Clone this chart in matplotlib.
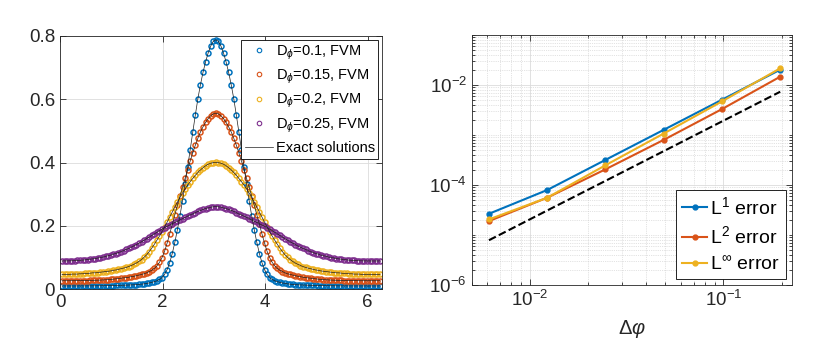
import numpy as np
import matplotlib
matplotlib.use('Agg')
import matplotlib.pyplot as plt
from matplotlib.ticker import FixedLocator, LogLocator, NullFormatter, FormatStrFormatter

plt.rcParams['font.family'] = ['Liberation Sans', 'DejaVu Sans']
plt.rcParams['mathtext.fontset'] = 'custom'
plt.rcParams['mathtext.rm'] = 'Liberation Sans'
plt.rcParams['mathtext.it'] = 'Liberation Sans:italic'

# ---- left panel: FVM cell centres and density values ----
phi = 0.04 + 0.05 * np.arange(125)

p_d010 = [
    0.0105, 0.0105, 0.0105, 0.0105, 0.0105, 0.0105, 0.0105, 0.0106, 0.0106, 0.0106,
    0.0107, 0.0107, 0.0108, 0.0109, 0.0110, 0.0111, 0.0112, 0.0114, 0.0115, 0.0117,
    0.0119, 0.0121, 0.0123, 0.0126, 0.0129, 0.0132, 0.0135, 0.0138, 0.0142, 0.0147,
    0.0154, 0.0162, 0.0172, 0.0185, 0.020, 0.022, 0.024, 0.027, 0.031, 0.037,
    0.047, 0.062, 0.084, 0.113, 0.148, 0.188, 0.232, 0.280, 0.332, 0.386,
    0.441, 0.496, 0.550, 0.602, 0.646, 0.685, 0.718, 0.746, 0.768, 0.783,
    0.788,
    0.783, 0.768, 0.746, 0.718, 0.685, 0.646, 0.602, 0.550, 0.496, 0.441,
    0.386, 0.332, 0.280, 0.232, 0.188, 0.148, 0.113, 0.084, 0.062, 0.047,
    0.037, 0.031, 0.027, 0.024, 0.022, 0.020, 0.0185, 0.0172, 0.0162, 0.0154,
    0.0147, 0.0142, 0.0138, 0.0135, 0.0132, 0.0129, 0.0126, 0.0123, 0.0121, 0.0119,
    0.0117, 0.0115, 0.0114, 0.0112, 0.0111, 0.0110, 0.0109, 0.0108, 0.0107, 0.0107,
    0.0106, 0.0106, 0.0106, 0.0105, 0.0105, 0.0105, 0.0105, 0.0105, 0.0105, 0.0105,
    0.0105, 0.0105, 0.0105, 0.0105]

p_d015 = [
    0.027, 0.027, 0.027, 0.027, 0.0271, 0.0272, 0.0273, 0.0274, 0.0275, 0.0276,
    0.0278, 0.028, 0.0283, 0.0285, 0.0288, 0.029, 0.0295, 0.030, 0.0305, 0.031,
    0.032, 0.033, 0.034, 0.035, 0.036, 0.037, 0.038, 0.040, 0.041, 0.043,
    0.045, 0.047, 0.049, 0.052, 0.056, 0.060, 0.066, 0.074, 0.085, 0.100,
    0.120, 0.146, 0.175, 0.205, 0.235, 0.265, 0.294, 0.322, 0.350, 0.378,
    0.405, 0.431, 0.455, 0.477, 0.497, 0.513, 0.527, 0.539, 0.548, 0.554,
    0.556,
    0.554, 0.548, 0.539, 0.527, 0.513, 0.497, 0.477, 0.455, 0.431, 0.405,
    0.378, 0.350, 0.322, 0.294, 0.265, 0.235, 0.205, 0.175, 0.146, 0.120,
    0.100, 0.085, 0.074, 0.066, 0.060, 0.056, 0.052, 0.049, 0.047, 0.045,
    0.043, 0.041, 0.040, 0.038, 0.037, 0.036, 0.035, 0.034, 0.033, 0.032,
    0.031, 0.0305, 0.030, 0.0295, 0.029, 0.0288, 0.0285, 0.0283, 0.028, 0.0278,
    0.0276, 0.0275, 0.0274, 0.0273, 0.0272, 0.0271, 0.027, 0.027, 0.027, 0.027,
    0.027, 0.027, 0.027, 0.027]

p_d020 = [
    0.047, 0.047, 0.047, 0.047, 0.048, 0.048, 0.048, 0.049, 0.049, 0.050,
    0.050, 0.051, 0.052, 0.052, 0.053, 0.054, 0.055, 0.056, 0.057, 0.058,
    0.060, 0.061, 0.063, 0.065, 0.067, 0.069, 0.072, 0.075, 0.079, 0.083,
    0.088, 0.094, 0.101, 0.109, 0.119, 0.130, 0.142, 0.155, 0.168, 0.182,
    0.197, 0.212, 0.228, 0.244, 0.260, 0.275, 0.290, 0.304, 0.317, 0.329,
    0.340, 0.350, 0.360, 0.369, 0.377, 0.384, 0.390, 0.395, 0.398, 0.400,
    0.401,
    0.400, 0.398, 0.395, 0.390, 0.384, 0.377, 0.369, 0.360, 0.350, 0.340,
    0.329, 0.317, 0.304, 0.290, 0.275, 0.260, 0.244, 0.228, 0.212, 0.197,
    0.182, 0.168, 0.155, 0.142, 0.130, 0.119, 0.109, 0.101, 0.094, 0.088,
    0.083, 0.079, 0.075, 0.072, 0.069, 0.067, 0.065, 0.063, 0.061, 0.060,
    0.058, 0.057, 0.056, 0.055, 0.054, 0.053, 0.052, 0.052, 0.051, 0.050,
    0.050, 0.049, 0.049, 0.048, 0.048, 0.048, 0.047, 0.047, 0.047, 0.047,
    0.047, 0.047, 0.047, 0.047]

p_d025 = [
    0.0894, 0.0895, 0.0896, 0.0898, 0.090, 0.0905, 0.091, 0.0915, 0.092, 0.093,
    0.094, 0.095, 0.096, 0.097, 0.099, 0.100, 0.102, 0.104, 0.106, 0.108,
    0.111, 0.113, 0.116, 0.119, 0.122, 0.126, 0.129, 0.133, 0.137, 0.141,
    0.146, 0.150, 0.155, 0.160, 0.165, 0.170, 0.175, 0.180, 0.185, 0.190,
    0.195, 0.199, 0.203, 0.207, 0.211, 0.215, 0.219, 0.223, 0.227, 0.231,
    0.235, 0.238, 0.242, 0.246, 0.249, 0.252, 0.255, 0.257, 0.259, 0.2605,
    0.261,
    0.2605, 0.259, 0.257, 0.255, 0.252, 0.249, 0.246, 0.242, 0.238, 0.235,
    0.231, 0.227, 0.223, 0.219, 0.215, 0.211, 0.207, 0.203, 0.199, 0.195,
    0.190, 0.185, 0.180, 0.175, 0.170, 0.165, 0.160, 0.155, 0.150, 0.146,
    0.141, 0.137, 0.133, 0.129, 0.126, 0.122, 0.119, 0.116, 0.113, 0.111,
    0.108, 0.106, 0.104, 0.102, 0.100, 0.099, 0.097, 0.096, 0.095, 0.094,
    0.093, 0.092, 0.0915, 0.091, 0.0905, 0.090, 0.0898, 0.0896, 0.0895, 0.0894,
    0.0894, 0.0894, 0.0894, 0.0894]

d_labels = ['D$_\\phi$=0.1, FVM', 'D$_\\phi$=0.15, FVM',
            'D$_\\phi$=0.2, FVM', 'D$_\\phi$=0.25, FVM']

# ---- right panel: convergence study ----
dphi = [0.00614, 0.01227, 0.02454, 0.04909, 0.09817, 0.19635]
err_l1 = [2.66e-5, 7.94e-5, 3.18e-4, 1.27e-3, 5.08e-3, 2.03e-2]
err_l2 = [1.90e-5, 5.57e-5, 2.06e-4, 8.00e-4, 3.30e-3, 1.47e-2]
err_linf = [2.05e-5, 5.57e-5, 2.48e-4, 1.07e-3, 4.70e-3, 2.16e-2]
ref_slope2 = [7.87e-6, 3.09e-5, 1.21e-4, 4.76e-4, 1.87e-3, 7.35e-3]

colors = ['#0072BD', '#D95319', '#EDB120', '#7E2F8E']
axis_col = '#262626'
grid_col = '#dcdcdc'

fig = plt.figure(figsize=(8.3, 3.41), dpi=100)

# left axes
ax1 = fig.add_axes([0.0723, 0.1516, 0.388, 0.743])
for vals, c, lab in zip([p_d010, p_d015, p_d020, p_d025], colors, d_labels):
    ax1.plot(phi, vals, 'o', ms=3.6, mfc='none', mec=c, mew=1.1, label=lab)
for i, vals in enumerate([p_d010, p_d015, p_d020, p_d025]):
    ax1.plot(phi, vals, '-', color='#202020', lw=0.5,
             label='Exact solutions' if i == 0 else None)
ax1.set_xlim(0, 2 * np.pi)
ax1.set_ylim(0, 0.8)
ax1.set_xticks([0, 2, 4, 6])
ax1.set_yticks([0, 0.2, 0.4, 0.6, 0.8])
ax1.yaxis.set_major_formatter(FormatStrFormatter('%g'))
ax1.grid(True, color=grid_col, lw=0.6)
ax1.set_axisbelow(True)
leg1 = ax1.legend(loc='upper right', fontsize=10.5, frameon=True, fancybox=False,
                  edgecolor='k', framealpha=1, numpoints=1, handlelength=1.9,
                  handletextpad=0.2, borderpad=0.25, labelspacing=0.42,
                  borderaxespad=0.25, markerscale=0.9)
leg1.get_frame().set_linewidth(0.6)
for h in leg1.legend_handles[:4]:
    h.set_markeredgewidth(0.8)

# right axes
ax2 = fig.add_axes([0.5683, 0.1642, 0.3855, 0.733])
ax2.loglog(dphi, err_l1, '.-', color=colors[0], lw=1.5, ms=7, label='L$^1$ error')
ax2.loglog(dphi, err_l2, '.-', color=colors[1], lw=1.5, ms=7, label='L$^2$ error')
ax2.loglog(dphi, err_linf, '.-', color=colors[2], lw=1.5, ms=7, label='L$^\\infty$ error')
ax2.loglog(dphi, ref_slope2, '--', color='k', lw=1.5)
ax2.set_xlim(0.005, 0.225)
ax2.set_ylim(1e-6, 1e-1)
ax2.yaxis.set_major_locator(FixedLocator([1e-6, 1e-4, 1e-2]))
ax2.yaxis.set_minor_locator(LogLocator(base=10, subs=np.arange(1, 10), numticks=30))
ax2.yaxis.set_minor_formatter(NullFormatter())
ax2.xaxis.set_major_locator(FixedLocator([1e-2, 1e-1]))
ax2.xaxis.set_minor_locator(LogLocator(base=10, subs=np.arange(2, 10), numticks=30))
ax2.xaxis.set_minor_formatter(NullFormatter())
ax2.grid(True, which='major', color=grid_col, lw=0.6)
ax2.grid(True, which='minor', color='#c8c8c8', lw=0.5, ls=':')
ax2.set_axisbelow(True)
ax2.set_xlabel('$\\Delta\\varphi$', fontsize=14.5, color=axis_col, labelpad=6)
leg2 = ax2.legend(loc='lower right', fontsize=14, frameon=True, fancybox=False,
                  edgecolor='k', framealpha=1, handlelength=1.3,
                  handletextpad=0.15, borderpad=0.3, labelspacing=0.4,
                  borderaxespad=0.3)
leg2.get_frame().set_linewidth(0.6)

for ax in (ax1, ax2):
    for s in ax.spines.values():
        s.set_color(axis_col)
        s.set_linewidth(0.6)
    ax.tick_params(which='both', direction='in', top=True, right=True,
                   colors=axis_col, labelsize=13.5, width=0.6)
    ax.tick_params(which='major', length=4)
    ax.tick_params(which='minor', length=2)

fig.savefig('out.png', dpi=100)
